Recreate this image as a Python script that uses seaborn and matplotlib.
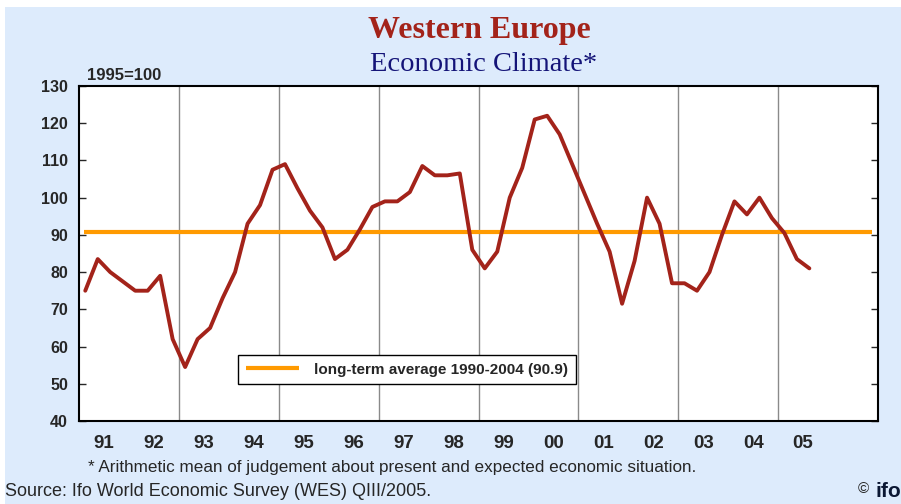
import pandas as pd
import matplotlib.pyplot as plt
import seaborn as sns

# Quarterly values, 1991 Q1 - 2005 Q3 (1995=100)
years = list(range(1991, 2006))
climate = [
    75, 83.5, 80, 77.5,      # 1991
    75, 75, 79, 62,          # 1992
    54.5, 62, 65, 73,        # 1993
    80, 93, 98, 107.5,       # 1994
    109, 102.5, 96.5, 92,    # 1995
    83.5, 86, 91.5, 97.5,    # 1996
    99, 99, 101.5, 108.5,    # 1997
    106, 106, 106.5, 86,     # 1998
    81, 85.5, 100, 108,      # 1999
    121, 122, 117, 109,      # 2000
    101, 93, 85.5, 71.5,     # 2001
    83, 100, 93, 77,         # 2002
    77, 75, 80, 90,          # 2003
    99, 95.5, 100, 94.5,     # 2004
    90.5, 83.5, 81,          # 2005
]
long_term_avg = 90.9
year_labels = ['91', '92', '93', '94', '95', '96', '97', '98', '99', '00',
               '01', '02', '03', '04', '05']

quarters = [(y, q) for y in years for q in range(1, 5)][:len(climate)]
df = pd.DataFrame({
    'time': [y + (q - 0.5) / 4 for y, q in quarters],
    'climate': climate,
})

bg = '#DDEBFC'
serif = ['Liberation Serif', 'DejaVu Serif']
sns.set_style('white')
plt.rcParams['font.family'] = ['Liberation Sans', 'DejaVu Sans']

fig = plt.figure(figsize=(9.01, 5.04), dpi=100, facecolor='white')
fig.patches.append(plt.Rectangle((0.005, 0), 0.995, 0.986, transform=fig.transFigure,
                                 facecolor=bg, edgecolor='none', zorder=-10))
ax = fig.add_axes([0.0877, 0.1647, 0.8868, 0.6647])
ax.set_facecolor('white')

# vertical grid every second year
for yr in range(1993, 2007, 2):
    ax.axvline(yr, color='#8a8a8a', lw=1.0, zorder=1)

ax.hlines(long_term_avg, 1991.1, 2006.87, color='#FF9A00', lw=3,
          label='long-term average 1990-2004 (90.9)', zorder=2)
sns.lineplot(data=df, x='time', y='climate', ax=ax, color='#A3231A', lw=2.8,
             zorder=3, legend=False)

ax.set_xlim(1991, 2007)
ax.set_ylim(40, 130)
ax.set_yticks(range(40, 131, 10))
ax.set_xticks(range(1991, 2008))
ax.set_xticklabels([])
ax.set_xticks([y + 0.5 for y in years], minor=True)
ax.set_xticklabels(year_labels, minor=True)
ax.tick_params(axis='x', which='major', direction='in', length=5, width=1, color='black')
ax.tick_params(axis='x', which='minor', length=0, pad=10, labelsize=13.5)
ax.tick_params(axis='y', direction='in', length=5, width=1, right=True, left=True,
               labelsize=11.5, pad=8)
for lab in ax.get_yticklabels() + ax.get_xticklabels(minor=True):
    lab.set_fontweight('bold')
for s in ax.spines.values():
    s.set_color('black')
    s.set_linewidth(1.5)
ax.set_xlabel('')
ax.set_ylabel('')

leg = ax.legend(loc='upper left', bbox_to_anchor=(0.199, 0.197), borderaxespad=0,
                fancybox=False, framealpha=1, edgecolor='black',
                prop={'weight': 'bold', 'size': 11}, handlelength=3.5,
                borderpad=0.5, handletextpad=1.0)
leg.get_frame().set_linewidth(1.0)

fig.text(0.532, 0.940, 'Western Europe', ha='center', va='center', fontsize=23,
         fontweight='bold', color='#A3231A', family=serif)
fig.text(0.537, 0.872, 'Economic Climate*', ha='center', va='center', fontsize=20.5,
         color='#141478', family=serif)
fig.text(0.097, 0.851, '1995=100', ha='left', va='center', fontsize=12, fontweight='bold')
fig.text(0.098, 0.072, '* Arithmetic mean of judgement about present and expected economic situation.',
         ha='left', va='center', fontsize=12.3)
fig.text(0.006, 0.024, 'Source: Ifo World Economic Survey (WES) QIII/2005.',
         ha='left', va='center', fontsize=13)
fig.text(0.958, 0.030, '\u00a9', ha='center', va='center', fontsize=11)
fig.text(0.972, 0.024, 'ifo', ha='left', va='center', fontsize=15, fontweight='bold',
         color='#0B1733')

fig.savefig('out.png', dpi=100, facecolor=fig.get_facecolor())
